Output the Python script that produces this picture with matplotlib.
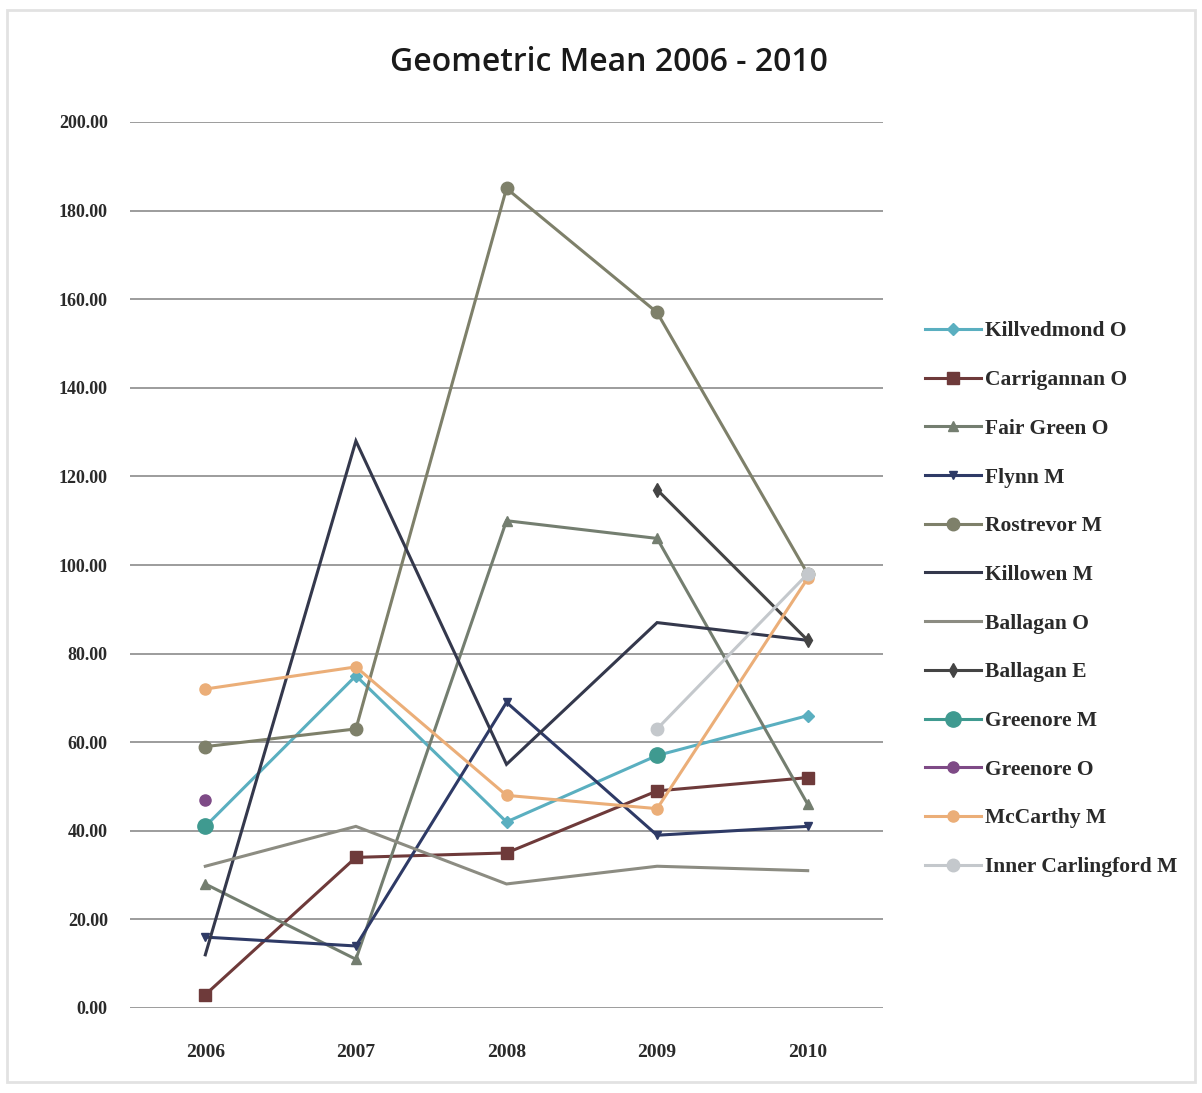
import numpy as np
import matplotlib
matplotlib.use("Agg")
import matplotlib.pyplot as plt
from matplotlib.patches import Rectangle

years = ["2006", "2007", "2008", "2009", "2010"]
nan = np.nan

killvedmond_o = [41, 75, 42, 57, 66]
carrigannan_o = [3, 34, 35, 49, 52]
fair_green_o = [28, 11, 110, 106, 46]
flynn_m = [16, 14, 69, 39, 41]
rostrevor_m = [59, 63, 185, 157, 98]
killowen_m = [12, 128, 55, 87, 83]
ballagan_o = [32, 41, 28, 32, 31]
ballagan_e = [nan, nan, nan, 117, 83]
greenore_m = [41, nan, nan, 57, nan]
greenore_o = [47, nan, nan, nan, nan]
mccarthy_m = [72, 77, 48, 45, 97]
inner_carlingford_m = [nan, nan, nan, 63, 98]

series = [
    ("Killvedmond O", killvedmond_o, "#5AAFC0", "D", 6),
    ("Carrigannan O", carrigannan_o, "#6E3A3A", "s", 8),
    ("Fair Green O", fair_green_o, "#747E70", "^", 7),
    ("Flynn M", flynn_m, "#2E3A66", "v", 6),
    ("Rostrevor M", rostrevor_m, "#7E806A", "o", 9),
    ("Killowen M", killowen_m, "#34384C", None, 0),
    ("Ballagan O", ballagan_o, "#8C8C82", None, 0),
    ("Ballagan E", ballagan_e, "#444444", "d", 7),
    ("Greenore M", greenore_m, "#3F9A90", "o", 11),
    ("Greenore O", greenore_o, "#7E4A86", "o", 8),
    ("McCarthy M", mccarthy_m, "#EBAE78", "o", 8),
    ("Inner Carlingford M", inner_carlingford_m, "#C4C8CC", "o", 9),
]

W, H = 1202, 1093
fig = plt.figure(figsize=(W / 100, H / 100), dpi=100)
fig.patch.set_facecolor("white")
fig.patches.append(Rectangle((0.006, 0.010), 0.988, 0.981, transform=fig.transFigure,
                             fill=False, edgecolor="#E2E2E2", linewidth=2))

ax = fig.add_axes([130 / W, (H - 1008) / H, 753 / W, 886 / H])
x = np.arange(len(years))

for name, vals, color, marker, ms in series:
    ax.plot(x, vals, color=color, linewidth=2.2, marker=marker, markersize=ms,
            markerfacecolor=color, markeredgecolor=color, label=name,
            solid_joinstyle="miter")

ax.set_xlim(-0.5, 4.5)
ax.set_ylim(0, 200)
yt = np.arange(0, 201, 20)
ax.set_yticks(yt)
ax.set_yticklabels([f"{v:.2f}" for v in yt], fontsize=13, color="#2A2A2A",
                   family="Liberation Serif", fontweight="bold")
ax.set_xticks(x)
ax.set_xticklabels(years, fontsize=14, color="#2A2A2A", family="Liberation Serif",
                   fontweight="bold")
ax.tick_params(axis="both", length=0, pad=16)
ax.tick_params(axis="x", pad=26)
ax.yaxis.grid(True, color="#9C9C9C", linewidth=1.4)
ax.set_axisbelow(True)
for s in ax.spines.values():
    s.set_visible(False)

fig.text(0.507, 0.943, "Geometric Mean 2006 - 2010", ha="center", va="center",
         fontsize=23, color="#1A1A1A", family="Open Sans", fontweight="semibold")

handles, labels = ax.get_legend_handles_labels()
leg = fig.legend(handles, labels, loc="upper left", bbox_to_anchor=(906 / W, 1 - 302 / H),
                 frameon=False, handlelength=2.6, handletextpad=0.15,
                 labelspacing=1.33, prop={"family": "Liberation Serif", "size": 15.5,
                                          "weight": "bold"})
for t in leg.get_texts():
    t.set_color("#2A2A2A")

fig.savefig("out.png", dpi=100, facecolor="white")
